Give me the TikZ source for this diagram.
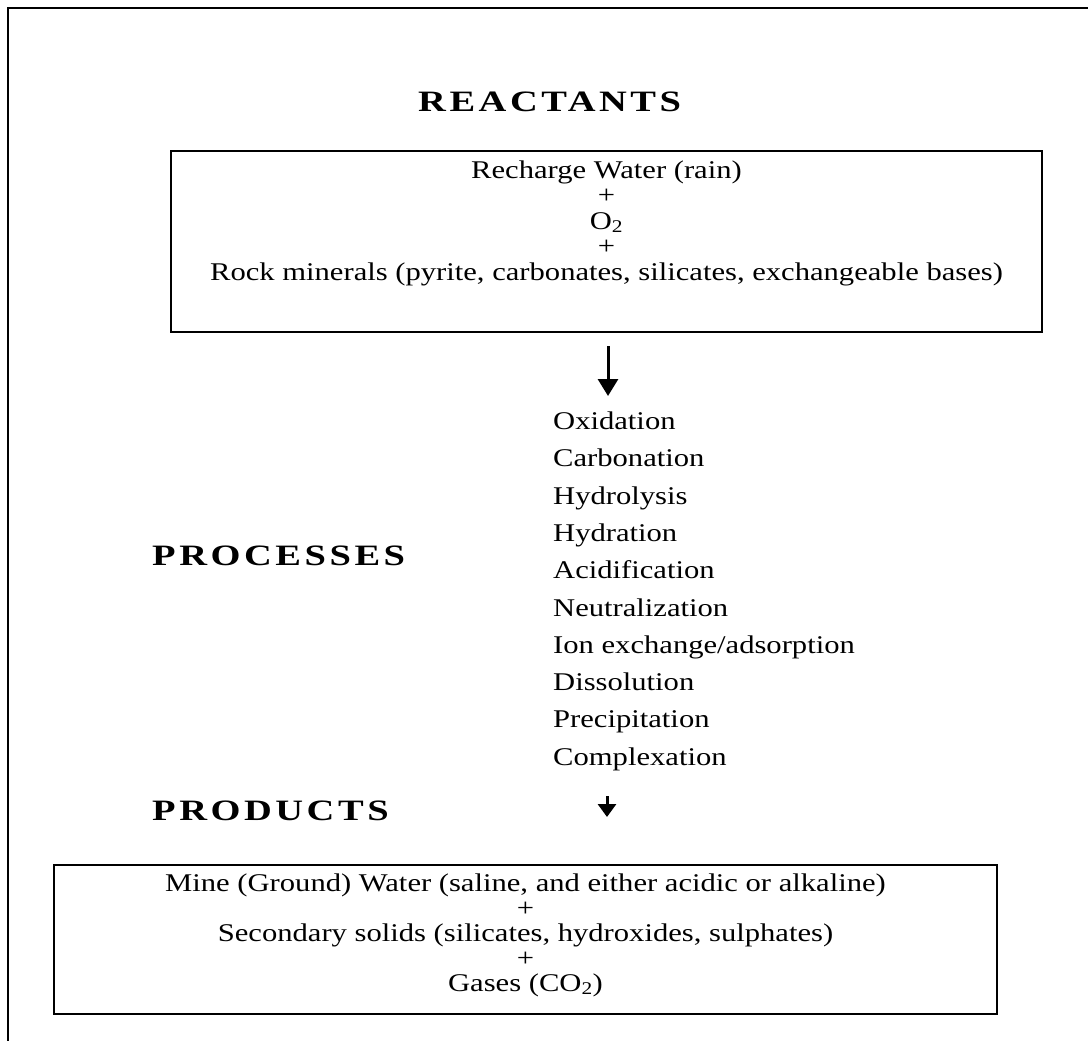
\documentclass[tikz,border=0pt]{standalone}
\usepackage{fontspec}
\setmainfont{Liberation Serif}
\newfontfamily\bodyfont{Liberation Serif}[FakeStretch=1.2]
\newfontfamily\headfont{Liberation Serif}[FakeStretch=1.3,LetterSpace=12]
\usetikzlibrary{arrows.meta}
\begin{document}
\begin{tikzpicture}[x=1pt,y=-1pt,
  frame/.style={draw=black,line width=2pt},
  body/.style={inner sep=0pt,anchor=base,font=\bodyfont\fontsize{25.5}{25.5}\selectfont},
  listitem/.style={inner sep=0pt,anchor=base west,font=\bodyfont\fontsize{25.5}{25.5}\selectfont},
  heading/.style={inner sep=0pt,anchor=base west,font=\headfont\bfseries\fontsize{29.6}{29.6}\selectfont},
  flow/.style={line width=3pt,-{Triangle[length=17pt,width=20pt]}},
  flowsmall/.style={line width=3pt,-{Triangle[length=13pt,width=18pt]}}]
\useasboundingbox (0,0) rectangle (1088,1041);
\fill[white] (0,0) rectangle (1088,1041);
\clip (0,0) rectangle (1088,1041);
% page frame (runs off the right and bottom edges)
\draw[frame] (8,8) rectangle (1110,1060);

% headings
\node[heading] (hreact) at (418,112) {REACTANTS};
\node[heading] (hproc) at (152,565) {PROCESSES};
\node[heading] (hprod) at (152,820) {PRODUCTS};

% reactants box
\draw[frame] (171,151) rectangle (1042,332);
\node[body] (r1) at (606.5,178) {Recharge Water (rain)};
\node[body] (r2) at (606.5,203.5) {+};
\node[body] (r3) at (606.5,229) {O\textsubscript{2}};
\node[body] (r4) at (606.5,254.5) {+};
\node[body] (r5) at (606.5,280) {Rock minerals (pyrite, carbonates, silicates, exchangeable bases)};

% arrow into the processes list
\coordinate (a1s) at (608,346);
\coordinate (a1e) at (608,396);
\draw[flow] (a1s) -- (a1e);

% processes
\foreach \t [count=\i from 0] in {Oxidation,Carbonation,Hydrolysis,Hydration,Acidification,Neutralization,Ion exchange/adsorption,Dissolution,Precipitation,Complexation}
  \node[listitem] (p\i) at (553,429.5+37.3*\i) {\t};

% arrow to the products
\coordinate (a2s) at (607,796);
\coordinate (a2e) at (607,817);
\draw[flowsmall] (a2s) -- (a2e);

% products box
\draw[frame] (54,865) rectangle (997,1014);
\node[body] (q1) at (525.5,891) {Mine (Ground) Water (saline, and either acidic or alkaline)};
\node[body] (q2) at (525.5,916) {+};
\node[body] (q3) at (525.5,941) {Secondary solids (silicates, hydroxides, sulphates)};
\node[body] (q4) at (525.5,966) {+};
\node[body] (q5) at (525.5,991) {Gases (CO\textsubscript{2})};
\end{tikzpicture}
\end{document}
